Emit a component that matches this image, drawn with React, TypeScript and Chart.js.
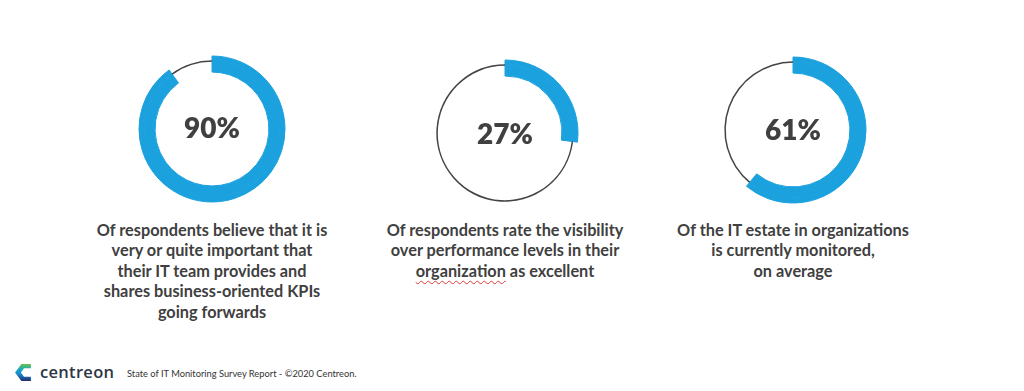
import React, { useEffect, useRef } from "react";
import { Chart, registerables } from "chart.js";

Chart.register(...registerables);

// ---- data ----
const percentValues: number[] = [90, 27, 61];
const segmentLabels: string[] = ["Share", "Rest"];
const captionLines: string[][] = [
  [
    "Of respondents believe that it is",
    "very or quite important that",
    "their IT team provides and",
    "shares business-oriented KPIs",
    "going forwards",
  ],
  [
    "Of respondents rate the visibility",
    "over performance levels in their",
    "§organization§ as excellent",
  ],
  [
    "Of the IT estate in organizations",
    "is currently monitored,",
    "on average",
  ],
];
const footerBrand = "centreon";
const footerNote = "State of IT Monitoring Survey Report - ©2020 Centreon.";

// ---- styling ----
const BLUE = "#1ba1de";
const GREY = "#444444";
const TEXT = "#404040";
const CLEAR = "rgba(0,0,0,0)";
const centersX = [212, 505, 793];
const centersY = [129, 133, 130];
const textCY = [128, 134, 130];
const CANVAS = 170;

function Donut({ value, cx, cy }: { value: number; cx: number; cy: number }) {
  const ref = useRef<HTMLCanvasElement | null>(null);
  useEffect(() => {
    if (!ref.current) return;
    const vals = [value, 100 - value];
    const chart = new Chart(ref.current, {
      type: "doughnut",
      data: {
        labels: segmentLabels,
        datasets: [
          {
            data: vals,
            backgroundColor: [BLUE, CLEAR],
            borderColor: [BLUE, CLEAR],
            borderWidth: [1, 0],
            weight: 4.3,
          },
          {
            data: vals,
            backgroundColor: [BLUE, GREY],
            borderColor: [BLUE, GREY],
            borderWidth: [1, 0],
            weight: 1.5,
          },
          {
            data: vals,
            backgroundColor: [BLUE, CLEAR],
            borderColor: [BLUE, CLEAR],
            borderWidth: [1, 0],
            weight: 10.2,
          },
        ],
      },
      options: {
        responsive: false,
        maintainAspectRatio: false,
        animation: false,
        events: [],
        radius: 73,
        cutout: "78%",
        layout: { padding: 0 },
        plugins: { legend: { display: false }, tooltip: { enabled: false } },
      } as any,
    });
    return () => chart.destroy();
  }, [value]);
  return (
    <canvas
      ref={ref}
      width={CANVAS}
      height={CANVAS}
      style={{
        position: "absolute",
        left: cx - CANVAS / 2,
        top: cy - CANVAS / 2,
        width: CANVAS,
        height: CANVAS,
        display: "block",
      }}
    />
  );
}

function CaptionLine({ line }: { line: string }) {
  const parts = line.split("§");
  return (
    <div>
      {parts.map((p, i) =>
        i % 2 === 1 ? (
          <span
            key={i}
            style={{
              textDecorationLine: "underline",
              textDecorationStyle: "wavy",
              textDecorationColor: "#e0393e",
              textDecorationThickness: "1px",
              textUnderlineOffset: "3px",
            }}
          >
            {p}
          </span>
        ) : (
          <span key={i}>{p}</span>
        )
      )}
    </div>
  );
}

export default function App() {
  const pctSize = 28;
  return (
    <div
      style={{
        position: "absolute",
        left: 0,
        top: 0,
        width: 1024,
        height: 391,
        background: "#ffffff",
        overflow: "hidden",
        fontFamily: "Lato, 'Open Sans', sans-serif",
      }}
    >
      {percentValues.map((v, i) => (
        <React.Fragment key={i}>
          <Donut value={v} cx={centersX[i]} cy={centersY[i]} />
          <div
            style={{
              position: "absolute",
              left: centersX[i] - 60,
              width: 120,
              top: textCY[i] - 0.527 * pctSize,
              fontSize: pctSize,
              lineHeight: `${pctSize}px`,
              fontWeight: 800,
              color: TEXT,
              textAlign: "center",
            }}
          >
            {`${v}%`}
          </div>
          <div
            style={{
              position: "absolute",
              left: centersX[i] - 160,
              width: 320,
              top: 219.5,
              fontSize: 16.3,
              lineHeight: "20.6px",
              fontWeight: 700,
              color: TEXT,
              textAlign: "center",
            }}
          >
            {captionLines[i].map((l, j) => (
              <CaptionLine key={j} line={l} />
            ))}
          </div>
        </React.Fragment>
      ))}

      {/* footer */}
      <svg
        width={19}
        height={19}
        viewBox="0 0 18 18"
        style={{ position: "absolute", left: 14, top: 363 }}
      >
        <defs>
          <linearGradient id="cg" x1="0" y1="0" x2="0" y2="1">
            <stop offset="0" stopColor="#6cc24a" />
            <stop offset="0.35" stopColor="#10a7c8" />
            <stop offset="0.6" stopColor="#1a86d0" />
            <stop offset="1" stopColor="#1d2f6b" />
          </linearGradient>
        </defs>
        <path
          d="M16 1 L7 1 L1 9 L7 17 L16 17 L16 13 L9.5 13 L6.5 9 L9.5 5 L16 5 Z"
          fill="url(#cg)"
        />
      </svg>
      <div
        style={{
          position: "absolute",
          left: 40,
          top: 361,
          fontFamily: "'Open Sans', sans-serif",
          fontSize: 16.5,
          lineHeight: "22px",
          fontWeight: 600,
          letterSpacing: "0.3px",
          color: "#2c3645",
        }}
      >
        {footerBrand}
      </div>
      <div
        style={{
          position: "absolute",
          left: 127,
          top: 367,
          fontSize: 9.3,
          lineHeight: "14px",
          color: "#333333",
          whiteSpace: "nowrap",
        }}
      >
        {footerNote}
      </div>
    </div>
  );
}
